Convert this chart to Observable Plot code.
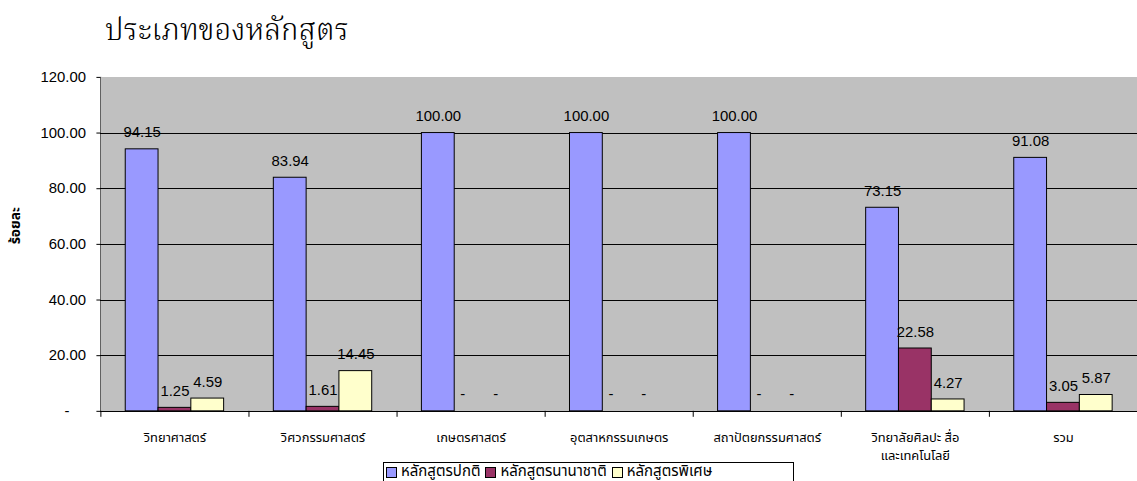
<!DOCTYPE html>
<html>
<head>
<meta charset="utf-8">
<script src="https://cdn.jsdelivr.net/npm/d3@7"></script>
<script src="https://cdn.jsdelivr.net/npm/@observablehq/plot@0.6"></script>
<style>
  html, body { margin: 0; padding: 0; background: #fff; }
  body { width: 1137px; height: 481px; overflow: hidden; position: relative; }
  #title { position: absolute; left: 105px; top: 15px; font-family: 'Noto Serif Thai', 'Liberation Serif', serif; font-size: 29.5px; font-weight: 300; color: #000; white-space: nowrap; line-height: 36px; }
  #chart { position: absolute; left: 0; top: 60px; }
  #legend { position: absolute; left: 383px; top: 462px; width: 411px; height: 40px; border: 1px solid #000; background: #fff; display: flex; align-items: flex-start; padding-top: 2px; box-sizing: border-box; font-family: 'Noto Sans Thai', 'Noto Sans', 'DejaVu Sans', sans-serif; font-size: 15px; line-height: 14px; color: #000; }
  .item { display: flex; align-items: center; margin-left: 2px; margin-right: 3px; height: 14px; }
  .sw { width: 9px; height: 9px; border: 1px solid #000; margin-right: 4px; }
</style>
</head>
<body>
<div id="title">ประเภทของหลักสูตร</div>
<div id="chart"></div>
<div id="legend"></div>
<script>
const categories = ["วิทยาศาสตร์", "วิศวกรรมศาสตร์", "เกษตรศาสตร์", "อุตสาหกรรมเกษตร", "สถาปัตยกรรมศาสตร์", "วิทยาลัยศิลปะ สื่อ\nและเทคโนโลยี", "รวม"];
const seriesNames = ["หลักสูตรปกติ", "หลักสูตรนานาชาติ", "หลักสูตรพิเศษ"];
const regular = [94.15, 83.94, 100.00, 100.00, 100.00, 73.15, 91.08];
const international = [1.25, 1.61, 0, 0, 0, 22.58, 3.05];
const special = [4.59, 14.45, 0, 0, 0, 4.27, 5.87];
const colors = ["#9999FF", "#993366", "#FFFFCC"];
const yTicks = [0, 20, 40, 60, 80, 100, 120];
const yTitle = "ร้อยละ";

const seriesValues = [regular, international, special];
const data = categories.flatMap((c, i) => seriesNames.map((s, j) => ({category: c, series: s, value: seriesValues[j][i]})));

const thaiFont = "'Noto Sans Thai', 'Noto Sans', 'DejaVu Sans', sans-serif";
const W = 1144, H = 400, mt = 17, mb = 47, ml = 101, mr = 0;
const fmt = v => v === 0 ? "-\u00a0\u00a0\u00a0\u00a0" : v.toFixed(2);

const chart = Plot.plot({
  width: W, height: H, marginTop: mt, marginBottom: mb, marginLeft: ml, marginRight: mr,
  style: {fontFamily: "'Liberation Sans', Arial, sans-serif", fontSize: "15px", color: "#000", background: "transparent", overflow: "visible"},
  fx: {domain: categories, padding: 0, round: true, axis: null},
  x: {domain: seriesNames, paddingInner: 0, paddingOuter: 0.757, axis: null},
  y: {domain: [0, 120], ticks: yTicks, tickFormat: fmt, tickSize: 4, tickPadding: 11, line: true, label: null},
  color: {domain: seriesNames, range: colors},
  marks: [
    Plot.frame({fill: "#C0C0C0", shapeRendering: "crispEdges"}),
    Plot.ruleY(yTicks.filter(t => t > 0 && t < 120), {stroke: "#000", strokeWidth: 1, shapeRendering: "crispEdges"}),
    Plot.barY(data.filter(d => d.value > 0), {fx: "category", x: "series", y: "value", fill: "series", stroke: "#000", strokeWidth: 1}),
    Plot.ruleY([0], {stroke: "#000", strokeWidth: 1, shapeRendering: "crispEdges"}),
    Plot.frame({anchor: "left", insetTop: H - mt - mb, insetBottom: -5, stroke: "#000", shapeRendering: "crispEdges"}),
    Plot.text(data, {fx: "category", x: "series", y: "value", text: d => fmt(d.value), lineAnchor: "bottom", dy: -12, fontSize: 15, fill: "#000"}),
    Plot.text(categories, {fx: d => d, text: d => d, frameAnchor: "bottom", lineAnchor: "top", dy: 17, fontSize: 13, lineHeight: 1.45, fontFamily: thaiFont, fill: "#000"}),
    Plot.text([categories[0]], {fx: d => d, text: () => yTitle, frameAnchor: "left", rotate: -90, dx: -86, fontWeight: "bold", fontSize: 14, fontFamily: thaiFont, fill: "#000"})
  ]
});
document.getElementById("chart").appendChild(chart);

const legend = document.getElementById("legend");
seriesNames.forEach((s, i) => {
  const item = document.createElement("div");
  item.className = "item";
  const sw = document.createElement("div");
  sw.className = "sw";
  sw.style.background = colors[i];
  const t = document.createElement("span");
  t.textContent = s;
  item.appendChild(sw);
  item.appendChild(t);
  legend.appendChild(item);
});
</script>
</body>
</html>
